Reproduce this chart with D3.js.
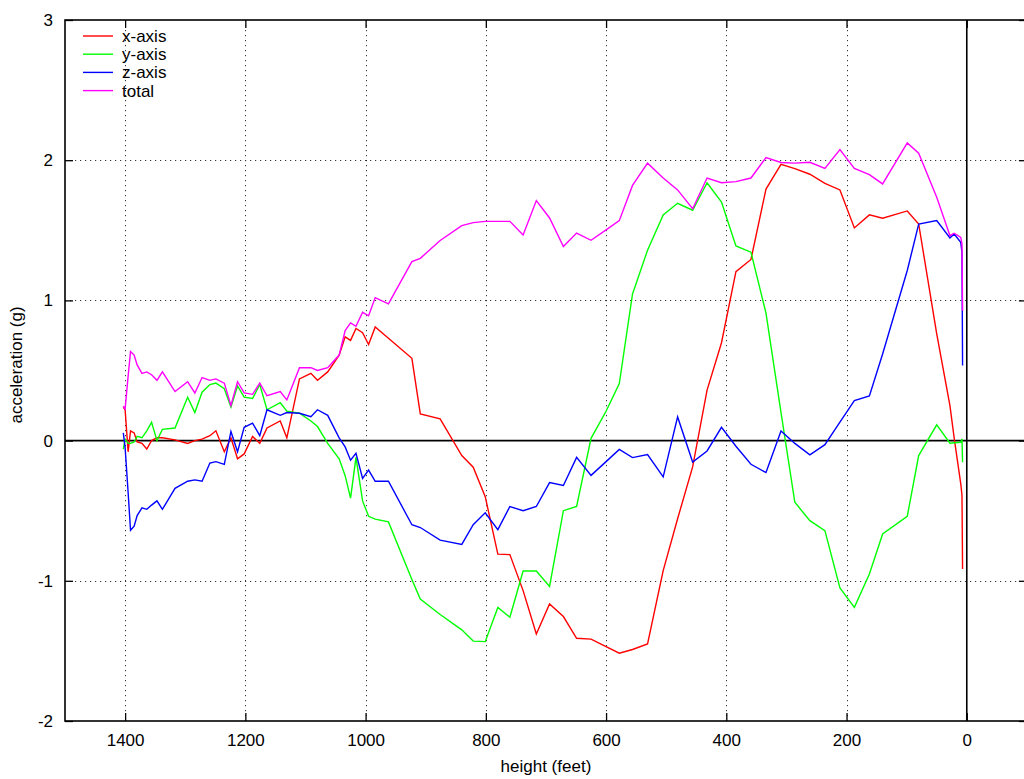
<!DOCTYPE html>
<html>
<head>
<meta charset="utf-8">
<script src="https://cdn.jsdelivr.net/npm/d3@7"></script>
<style>
    body { margin: 0; background: #fff; }
    svg { display: block; font-family: "Liberation Sans", Arial, Helvetica, sans-serif; }
</style>
</head>
<body>
<svg width="1024" height="779"></svg>
<script>

    // ------------------------------------------------------
    // DATA (height in feet, acceleration in g)
    // ------------------------------------------------------
    var heights = [1403, 1400, 1395, 1391, 1385, 1380, 1372, 1364, 1356, 1347,
                   1338, 1317, 1296, 1284, 1272, 1259, 1249, 1235, 1224, 1213,
                   1202, 1188, 1176, 1164, 1142, 1131, 1110, 1091, 1080, 1063,
                   1044, 1034, 1025, 1016, 1005, 995, 984, 962, 923, 909,
                   876, 840, 821, 801, 780, 760, 738, 716, 694, 671,
                   649, 625, 600, 578, 556, 531, 505, 481, 456, 432,
                   408, 384, 359, 334, 309, 286, 261, 236, 211, 187,
                   162, 140, 99, 80, 50, 28, 21, 10, 8, 7];

    var xAxisAcc = [0.24, 0.22, -0.08, 0.07, 0.055, -0.01, -0.02, -0.06, 0.0, 0.02,
                    0.02, 0.005, -0.02, 0.0, 0.01, 0.035, 0.07, -0.08, 0.02, -0.13,
                    -0.095, 0.03, -0.02, 0.09, 0.14, 0.02, 0.44, 0.48, 0.43, 0.49,
                    0.61, 0.74, 0.715, 0.80, 0.77, 0.685, 0.81, 0.73, 0.587, 0.19,
                    0.155, -0.107, -0.19, -0.40, -0.81, -0.813, -1.07, -1.38, -1.165, -1.255,
                    -1.41, -1.416, -1.469, -1.516, -1.49, -1.45, -0.927, -0.557, -0.188, 0.36,
                    0.698, 1.205, 1.292, 1.794, 1.971, 1.94, 1.90, 1.835, 1.788, 1.517,
                    1.61, 1.586, 1.638, 1.545, 0.761, 0.25, 0.02, -0.309, -0.39, -0.915];

    var yAxisAcc = [-0.06, 0.01, -0.02, -0.02, -0.01, 0.03, 0.02, 0.07, 0.13, 0.0,
                    0.08, 0.09, 0.31, 0.2, 0.345, 0.40, 0.41, 0.37, 0.24, 0.39,
                    0.31, 0.30, 0.40, 0.22, 0.27, 0.21, 0.195, 0.14, 0.10, -0.02,
                    -0.13, -0.25, -0.41, -0.12, -0.43, -0.54, -0.56, -0.58, -0.99, -1.13,
                    -1.24, -1.35, -1.43, -1.434, -1.19, -1.26, -0.93, -0.93, -1.04, -0.50,
                    -0.47, 0.016, 0.209, 0.407, 1.046, 1.358, 1.609, 1.693, 1.643, 1.839,
                    1.701, 1.389, 1.344, 0.909, 0.2, -0.44, -0.571, -0.642, -1.051, -1.189,
                    -0.951, -0.666, -0.54, -0.107, 0.112, -0.019, -0.015, -0.012, 0.012, -0.155];

    var zAxisAcc = [0.055, -0.05, -0.37, -0.64, -0.61, -0.535, -0.48, -0.49, -0.46, -0.43,
                    -0.49, -0.34, -0.29, -0.28, -0.29, -0.16, -0.15, -0.17, 0.065, -0.08,
                    0.095, 0.125, 0.035, 0.22, 0.18, 0.2, 0.195, 0.17, 0.22, 0.18,
                    0.02, -0.045, -0.14, -0.09, -0.27, -0.21, -0.29, -0.29, -0.60, -0.62,
                    -0.71, -0.74, -0.60, -0.515, -0.635, -0.47, -0.50, -0.47, -0.30, -0.32,
                    -0.12, -0.248, -0.15, -0.063, -0.121, -0.10, -0.259, 0.169, -0.153, -0.074,
                    0.095, -0.04, -0.169, -0.228, 0.068, -0.02, -0.102, -0.029, 0.131, 0.285,
                    0.319, 0.618, 1.213, 1.545, 1.569, 1.446, 1.474, 1.414, 1.343, 0.535];

    var totalAcc = [0.245, 0.226, 0.46, 0.635, 0.61, 0.54, 0.48, 0.49, 0.47, 0.43,
                    0.49, 0.35, 0.42, 0.34, 0.45, 0.43, 0.44, 0.41, 0.25, 0.42,
                    0.34, 0.33, 0.41, 0.32, 0.35, 0.29, 0.52, 0.52, 0.50, 0.52,
                    0.61, 0.785, 0.84, 0.815, 0.915, 0.89, 1.02, 0.975, 1.277, 1.30,
                    1.427, 1.533, 1.555, 1.564, 1.564, 1.564, 1.467, 1.712, 1.588, 1.384,
                    1.48, 1.429, 1.503, 1.569, 1.82, 1.979, 1.873, 1.788, 1.654, 1.873,
                    1.839, 1.847, 1.873, 2.019, 1.984, 1.979, 1.985, 1.942, 2.076, 1.942,
                    1.897, 1.831, 2.123, 2.05, 1.735, 1.462, 1.479, 1.45, 1.403, 0.927];

    var seriesNames = ["x-axis", "y-axis", "z-axis", "total"];
    var seriesColours = ["#ff0000", "#00ff00", "#0000ff", "#ff00ff"];

    var xTickValues = [1400, 1200, 1000, 800, 600, 400, 200, 0];
    var yTickValues = [-2, -1, 0, 1, 2, 3];
    var xDomain = [1500, -100];
    var yDomain = [-2, 3];


    // ------------------------------------------------------
    // SETUP
    // ------------------------------------------------------
    var svg = d3.select("svg");
    var plot = {left: 65, top: 20, right: 1026.9, bottom: 721};
    var fontSize = 17;

    var x = d3.scaleLinear().domain(xDomain).range([plot.left, plot.right]);
    var y = d3.scaleLinear().domain(yDomain).range([plot.bottom, plot.top]);

    var fmt = function(d) { return String(d); };   // plain hyphen minus like gnuplot

    // ---------------------------------------------------
    // grid (dotted)
    // ---------------------------------------------------
    var grid = svg.append("g")
        .attr("stroke", "#333")
        .attr("stroke-width", 1)
        .attr("stroke-dasharray", "1.2,3.8");

    grid.selectAll("line.gx")
        .data(xTickValues.filter(function(d) { return d !== 0; }))
        .enter().append("line")
        .attr("class", "gx")
        .attr("x1", function(d) { return Math.round(x(d)) + 0.5; })
        .attr("x2", function(d) { return Math.round(x(d)) + 0.5; })
        .attr("y1", plot.top)
        .attr("y2", plot.bottom);

    grid.selectAll("line.gy")
        .data(yTickValues.filter(function(d) { return d !== 0 && d !== 3 && d !== -2; }))
        .enter().append("line")
        .attr("class", "gy")
        .attr("x1", plot.left)
        .attr("x2", plot.right)
        .attr("y1", function(d) { return Math.round(y(d)) + 0.5; })
        .attr("y2", function(d) { return Math.round(y(d)) + 0.5; });

    // ---------------------------------------------------
    // zero axes
    // ---------------------------------------------------
    svg.append("line")
        .attr("x1", plot.left).attr("x2", plot.right)
        .attr("y1", y(0)).attr("y2", y(0))
        .attr("stroke", "#000").attr("stroke-width", 1.6);

    svg.append("line")
        .attr("x1", x(0)).attr("x2", x(0))
        .attr("y1", plot.top).attr("y2", plot.bottom)
        .attr("stroke", "#000").attr("stroke-width", 1.6);

    // ---------------------------------------------------
    // axes with inward ticks
    // ---------------------------------------------------
    var gx = svg.append("g")
        .attr("transform", "translate(0," + plot.bottom + ")")
        .call(d3.axisBottom(x).tickValues(xTickValues).tickFormat(fmt)
              .tickSizeInner(-8).tickSizeOuter(0).tickPadding(13));

    var gxTop = svg.append("g")
        .attr("transform", "translate(0," + plot.top + ")")
        .call(d3.axisTop(x).tickValues(xTickValues).tickFormat("")
              .tickSizeInner(-8).tickSizeOuter(0));

    var gy = svg.append("g")
        .attr("transform", "translate(" + plot.left + ",0)")
        .call(d3.axisLeft(y).tickValues(yTickValues).tickFormat(fmt)
              .tickSizeInner(-8).tickSizeOuter(0).tickPadding(12));

    var gyRight = svg.append("g")
        .attr("transform", "translate(" + plot.right + ",0)")
        .call(d3.axisRight(y).tickValues(yTickValues).tickFormat("")
              .tickSizeInner(-8).tickSizeOuter(0));

    [gx, gxTop, gy, gyRight].forEach(function(a) {
        a.select(".domain").remove();
        a.selectAll("line").attr("stroke", "#000").attr("stroke-width", 1.3);
        a.selectAll("text")
            .attr("font-family", "Liberation Sans, Arial, sans-serif")
            .attr("font-size", fontSize)
            .attr("fill", "#000");
    });

    // ---------------------------------------------------
    // series lines
    // ---------------------------------------------------
    var allSeries = [xAxisAcc, yAxisAcc, zAxisAcc, totalAcc];

    var line = d3.line()
        .x(function(d, i) { return x(heights[i]); })
        .y(function(d) { return y(d); });

    svg.append("g")
        .selectAll("path")
        .data(allSeries)
        .enter().append("path")
        .attr("d", line)
        .attr("fill", "none")
        .attr("stroke", function(d, i) { return seriesColours[i]; })
        .attr("stroke-width", 1.4)
        .attr("stroke-linejoin", "miter");

    // ---------------------------------------------------
    // border
    // ---------------------------------------------------
    svg.append("rect")
        .attr("x", plot.left).attr("y", plot.top)
        .attr("width", plot.right - plot.left).attr("height", plot.bottom - plot.top)
        .attr("fill", "none")
        .attr("stroke", "#000")
        .attr("stroke-width", 1.6);

    // ---------------------------------------------------
    // legend
    // ---------------------------------------------------
    var legend = svg.append("g")
        .selectAll("g")
        .data(seriesNames)
        .enter().append("g")
        .attr("transform", function(d, i) { return "translate(0," + (36 + i * 18.2) + ")"; });

    legend.append("line")
        .attr("x1", 83).attr("x2", 113)
        .attr("stroke", function(d, i) { return seriesColours[i]; })
        .attr("stroke-width", 1.4);

    legend.append("text")
        .attr("x", 122)
        .attr("dy", "0.35em")
        .attr("font-size", fontSize)
        .text(function(d) { return d; });

    // ---------------------------------------------------
    // axis labels
    // ---------------------------------------------------
    svg.append("text")
        .attr("x", (plot.left + plot.right) / 2)
        .attr("y", 772)
        .attr("text-anchor", "middle")
        .attr("font-size", fontSize)
        .text("height (feet)");

    svg.append("text")
        .attr("transform", "translate(22,365) rotate(-90)")
        .attr("text-anchor", "middle")
        .attr("font-size", fontSize)
        .text("acceleration (g)");

</script>
</body>
</html>
